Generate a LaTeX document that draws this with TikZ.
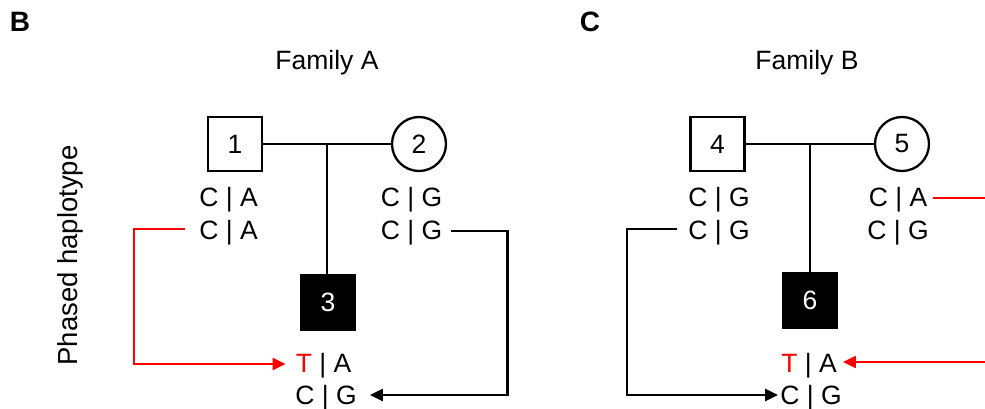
\documentclass[tikz,border=0pt]{standalone}
\usepackage{fontspec}
\setmainfont{Liberation Sans}
\usetikzlibrary{arrows.meta,calc}
\definecolor{hred}{RGB}{255,0,0}
\begin{document}
\begin{tikzpicture}[x=1pt,y=-1pt,
  txt/.style={inner sep=0pt, font=\fontsize{26.5}{30}\selectfont},
  geno/.style={txt, anchor=base},
  panel/.style={inner sep=0pt, font=\fontsize{28}{32}\selectfont\bfseries},
  male/.style={draw, line width=2.3pt, minimum size=54pt, inner sep=0pt, txt},
  female/.style={circle, draw, line width=2.3pt, minimum size=54pt, inner sep=0pt, txt},
  affected/.style={male, fill=black, text=white},
  link/.style={line width=2.3pt},
  arr/.style={line width=2.3pt, -{Triangle[length=13pt,width=12pt]}},
]
\useasboundingbox (0,0) rectangle (985,409);

% panel labels
\node[panel] (lB) at (20,22) {B};
\node[panel] (lC) at (590,22) {C};
\node[txt, anchor=base] (famA) at (327,70) {Family A};
\node[txt, anchor=base] (famB) at (807,70) {Family B};
\node[txt, font=\fontsize{27.5}{31}\selectfont, rotate=90, anchor=base] (ph) at (77.5,255.5) {Phased haplotype};

% Family A
\node[male] (p1) at (235,144) {1};
\node[female] (p2) at (419,144) {2};
\node[affected] (p3) at (328,302.5) {3};
\draw[link] (p1.east) -- coordinate[midway] (m1) (p2.west);
\draw[link] (m1) -- (m1 |- p3.north);

\node[geno] (g1a) at (228.5,206) {C | A};
\node[geno] (g1b) at (228.5,239) {C | A};
\node[geno] (g2a) at (411.5,206) {C | G};
\node[geno] (g2b) at (411.5,239) {C | G};
\node[geno] (g3a) at (323.5,372) {\textcolor{hred}{T} | A};
\node[geno] (g3b) at (326,404) {C | G};

\draw[arr, hred] ([shift={(-14,-10)}]g1b.base west) -- ++(-51,0) |- ([shift={(-10,-8)}]g3a.base west);
\draw[arr] ([shift={(9,-8)}]g2b.base east) -- ++(56,0) |- ([shift={(13,-9)}]g3b.base east);

% Family B
\node[male] (p4) at (717.5,144) {4};
\node[female] (p5) at (902,144) {5};
\node[affected] (p6) at (810,300.5) {6};
\draw[link] (p4.east) -- coordinate[midway] (m2) (p5.west);
\draw[link] (m2) -- (m2 |- p6.north);

\node[geno] (g4a) at (719,206) {C | G};
\node[geno] (g4b) at (719,239) {C | G};
\node[geno] (g5a) at (898,206) {C | A};
\node[geno] (g5b) at (898,239) {C | G};
\node[geno] (g6a) at (809,372) {\textcolor{hred}{T} | A};
\node[geno] (g6b) at (811,404) {C | G};

\coordinate (rt) at (985,198);
\coordinate (rb) at (985,362);
\draw[link, hred] ([shift={(6,-8)}]g5a.base east) -- (rt);
\draw[arr, hred] (rb) -- ([shift={(6,-10)}]g6a.base east);
\draw[arr] ([shift={(-11,-10)}]g4b.base west) -- ++(-50,0) |- ([shift={(-2,-9)}]g6b.base west);
\end{tikzpicture}
\end{document}
